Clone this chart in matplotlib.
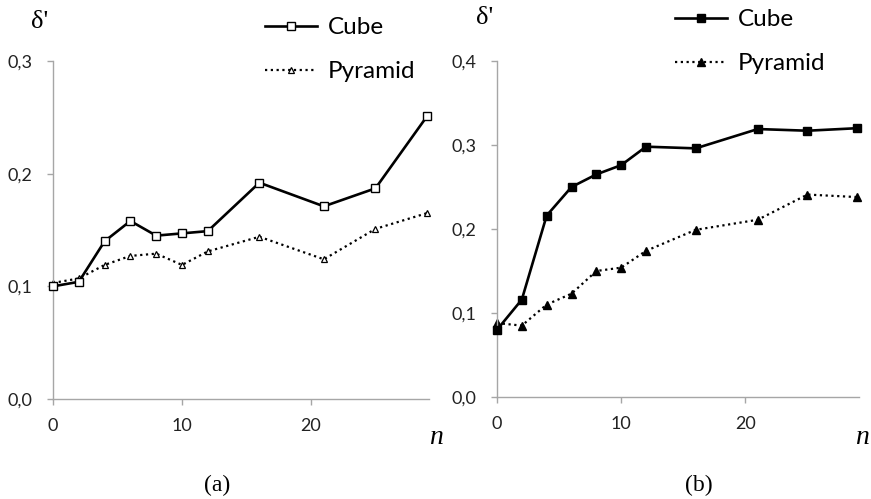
import matplotlib
matplotlib.use("Agg")
import matplotlib.pyplot as plt
from matplotlib.ticker import FuncFormatter

# ---- data ----
n_vals = [0, 2, 4, 6, 8, 10, 12, 16, 21, 25, 29]

cube_a = [0.100, 0.104, 0.140, 0.158, 0.145, 0.147, 0.149, 0.192, 0.171, 0.187, 0.251]
pyr_a = [0.103, 0.107, 0.119, 0.127, 0.129, 0.119, 0.131, 0.144, 0.124, 0.151, 0.165]

cube_b = [0.080, 0.116, 0.216, 0.250, 0.265, 0.276, 0.298, 0.296, 0.319, 0.317, 0.320]
pyr_b = [0.088, 0.085, 0.110, 0.123, 0.150, 0.154, 0.174, 0.199, 0.211, 0.241, 0.238]

xticks = [0, 10, 20]
yticks_a = [0.0, 0.1, 0.2, 0.3]
yticks_b = [0.0, 0.1, 0.2, 0.3, 0.4]
series_labels = ["Cube", "Pyramid"]
panel_labels = ["(a)", "(b)"]

W, H = 871, 499
fig = plt.figure(figsize=(W / 100, H / 100), dpi=100)

SANS = ["Lato", "DejaVu Sans"]
SERIF = ["Liberation Serif", "DejaVu Serif"]
SPINE = "#a6a6a6"


def px_axes(l, t, r, b):
    return fig.add_axes([l / W, 1 - b / H, (r - l) / W, (b - t) / H])


def style(ax, yticks, ymax):
    ax.set_xlim(0, 29.15)
    ax.set_ylim(0, ymax)
    for s in ["top", "right"]:
        ax.spines[s].set_visible(False)
    for s in ["left", "bottom"]:
        ax.spines[s].set_color(SPINE)
        ax.spines[s].set_linewidth(1.0)
    ax.set_xticks(xticks)
    ax.set_yticks(yticks)
    ax.yaxis.set_major_formatter(FuncFormatter(lambda v, p: f"{v:.1f}".replace(".", ",")))
    ax.tick_params(axis="both", direction="out", length=4.5, width=1.0, color=SPINE,
                   labelsize=13, labelcolor="#222222")
    ax.tick_params(axis="y", pad=10)
    ax.tick_params(axis="x", pad=9)
    for lab in ax.get_xticklabels() + ax.get_yticklabels():
        lab.set_fontfamily(SANS)
    ax.patch.set_alpha(0)


# ---- panel (a) ----
ax1 = px_axes(53, 61, 429, 399)
style(ax1, yticks_a, 0.3)
l1, = ax1.plot(n_vals, cube_a, color="black", lw=1.9, marker="s", ms=6.3,
               mfc="white", mec="black", mew=1.0, clip_on=False, zorder=3,
               label=series_labels[0])
l2, = ax1.plot(n_vals, pyr_a, color="black", lw=1.6, ls=(0, (1, 1.6)), marker="^",
               ms=5, mfc="white", mec="black", mew=0.9, clip_on=False, zorder=2,
               label=series_labels[1])
leg1 = ax1.legend(handles=[l1, l2], loc="upper left", bbox_to_anchor=(265 / W, 1 - 17 / H),
                  bbox_transform=fig.transFigure, frameon=False, borderpad=0,
                  borderaxespad=0, handlelength=2.15, handletextpad=0.45,
                  labelspacing=0.95, prop={"family": SANS, "size": 17.5})

# ---- panel (b) ----
ax2 = px_axes(497, 61, 859, 397)
style(ax2, yticks_b, 0.4)
l3, = ax2.plot(n_vals, cube_b, color="black", lw=1.9, marker="s", ms=6.3,
               mfc="black", mec="black", clip_on=False, zorder=3,
               label=series_labels[0])
l4, = ax2.plot(n_vals, pyr_b, color="black", lw=1.6, ls=(0, (1, 1.6)), marker="^",
               ms=5.5, mfc="black", mec="black", clip_on=False, zorder=2,
               label=series_labels[1])
leg2 = ax2.legend(handles=[l3, l4], loc="upper left", bbox_to_anchor=(675 / W, 1 - 9 / H),
                  bbox_transform=fig.transFigure, frameon=False, borderpad=0,
                  borderaxespad=0, handlelength=2.15, handletextpad=0.45,
                  labelspacing=0.95, prop={"family": SANS, "size": 17.5})

# ---- free texts ----
def ftext(x, y, s, **kw):
    fig.text(x / W, 1 - y / H, s, **kw)

ftext(40, 22, "δ'", family=SERIF, fontsize=19, ha="center", va="center")
ftext(485, 18, "δ'", family=SERIF, fontsize=19, ha="center", va="center")
ftext(436, 438, "n", family=SERIF, style="italic", fontsize=20, ha="center", va="center")
ftext(862, 437, "n", family=SERIF, style="italic", fontsize=20, ha="center", va="center")
ftext(217, 485, panel_labels[0], family=SERIF, fontsize=17, ha="center", va="center")
ftext(699, 485, panel_labels[1], family=SERIF, fontsize=17, ha="center", va="center")

fig.savefig("out.png", dpi=100)
